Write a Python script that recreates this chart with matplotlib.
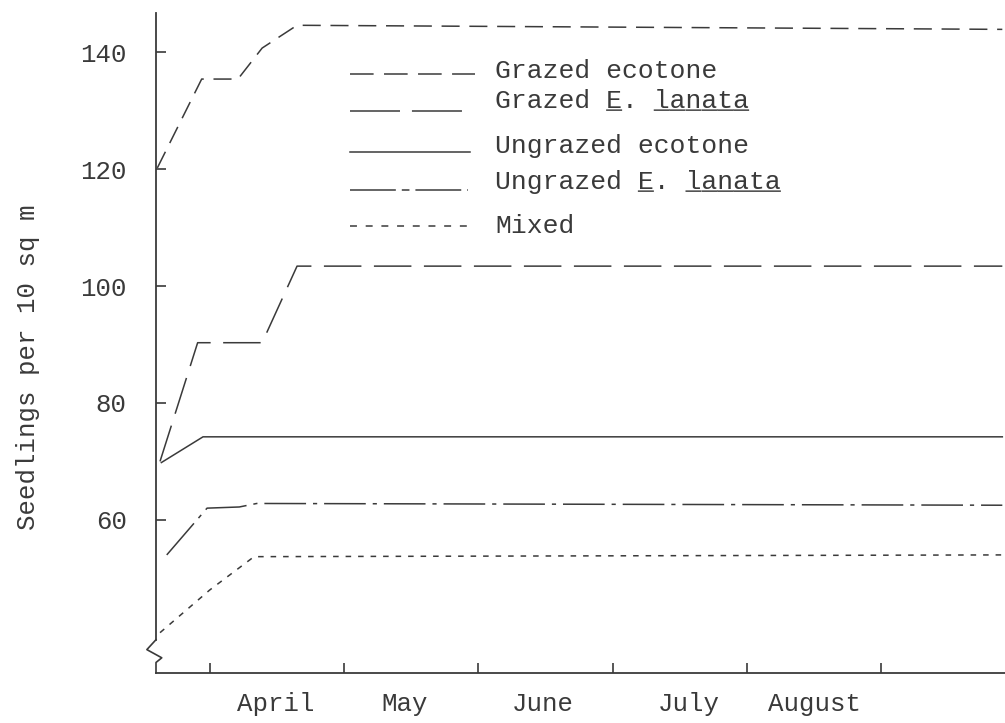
import matplotlib
matplotlib.use('Agg')
import matplotlib.pyplot as plt
from matplotlib.lines import Line2D

plt.rcParams['font.family'] = ['Liberation Mono', 'DejaVu Sans Mono']
plt.rcParams['lines.scale_dashes'] = False

# x = months counted from 1 March (tick 1 = start of April ... tick 6 = start of September)
grazed_eco_x = [0.61, 0.94, 1.21, 1.39, 1.65, 6.9]
grazed_eco_y = [120.2, 135.4, 135.4, 140.7, 144.6, 143.9]

grazed_lan_x = [0.63, 0.91, 1.39, 1.65, 6.9]
grazed_lan_y = [70.0, 90.3, 90.3, 103.4, 103.4]

ungrazed_eco_x = [0.64, 0.95, 6.9]
ungrazed_eco_y = [69.8, 74.2, 74.2]

ungrazed_lan_x = [0.68, 0.98, 1.22, 1.35, 6.9]
ungrazed_lan_y = [54.0, 62.0, 62.2, 62.8, 62.5]

mixed_x = [0.63, 1.0, 1.33, 6.9]
mixed_y = [40.7, 48.0, 53.7, 54.0]

month_ticks = [1, 2, 3, 4, 5, 6]
month_label_pos = [1.49, 2.45, 3.48, 4.57, 5.5]
month_labels = ['April', 'May', 'June', 'July', 'August']
y_ticks = [60, 80, 100, 120, 140]

legend_labels = ['Grazed ecotone', 'Grazed E. lanata', 'Ungrazed ecotone',
                 'Ungrazed E. lanata', 'Mixed']
legend_under = ['', '       _  ______', '', '         _  ______', '']

ink = '#3a3a3a'
styles = [
    (0, (13, 7)),
    (0, (27, 9)),
    '-',
    (0, (30, 5, 3, 5)),
    (0, (4, 5)),
]
# typed samples in the key are a little different from the plotted lines
key_styles = [
    (0, (17, 7.5)),
    (0, (36, 8.6)),
    '-',
    (0, (33, 4.3, 5.5, 4.3)),
    (0, (5, 6.3)),
]

fig = plt.figure(figsize=(10.05, 7.23), dpi=100)
ax = fig.add_axes([156/1005, 50/723, 849/1005, 660/723])

series = [(grazed_eco_x, grazed_eco_y), (grazed_lan_x, grazed_lan_y),
          (ungrazed_eco_x, ungrazed_eco_y), (ungrazed_lan_x, ungrazed_lan_y),
          (mixed_x, mixed_y)]
for (xs, ys), st in zip(series, styles):
    ax.plot(xs, ys, color=ink, linewidth=1.1, linestyle=st)

ax.set_xlim(0.6, 6.92)
ax.set_ylim(33.8, 146.7)

for s in ['top', 'right']:
    ax.spines[s].set_visible(False)
ax.spines['left'].set_color(ink)
ax.spines['bottom'].set_color(ink)
ax.spines['left'].set_linewidth(1.3)
ax.spines['bottom'].set_linewidth(1.3)
ax.spines['left'].set_bounds(39.5, 146.7)

# axis break
ax.plot([0.6, 0.6, 0.532, 0.643, 0.6, 0.6], [39.5, 39.5, 37.8, 36.4, 35.6, 33.8],
        color=ink, linewidth=1.2, clip_on=False)

ax.set_yticks(y_ticks)
ax.set_yticklabels([str(v) for v in y_ticks])
ax.tick_params(axis='y', direction='in', length=7, width=1.2, color=ink,
               labelsize=18.5, labelcolor=ink, pad=21)

ax.set_xticks(month_ticks)
ax.set_xticklabels([])
ax.set_xticks(month_label_pos, minor=True)
ax.set_xticklabels(month_labels, minor=True)
ax.tick_params(axis='x', which='major', direction='in', length=7, width=1.2, color=ink)
ax.tick_params(axis='x', which='minor', length=0, labelsize=18.5, labelcolor=ink, pad=14)

fig.text(28/1005, 1 - 367/723, 'Seedlings per 10 sq m', rotation=90,
         ha='center', va='center', fontsize=18.5, color=ink)

# legend, typed by hand
row_y = [78, 108, 153, 189, 233]
line_x = [(350, 475), (350, 462), (350, 470), (350, 468), (350, 468)]
line_dy = [-4, 3, -1, 1, -7]
for i, lab in enumerate(legend_labels):
    yb = 1 - row_y[i]/723
    fig.text(495/1005, yb, lab, ha='left', va='baseline', fontsize=19, color=ink)
    if legend_under[i]:
        fig.text(495/1005, yb, legend_under[i], ha='left', va='baseline',
                 fontsize=19, color='#555555')
    x0, x1 = line_x[i]
    yl = 1 - (row_y[i] + line_dy[i])/723
    fig.add_artist(Line2D([x0/1005, x1/1005], [yl, yl], transform=fig.transFigure,
                          color=ink, linewidth=1.1, linestyle=key_styles[i]))

fig.savefig('out.png', dpi=100)
